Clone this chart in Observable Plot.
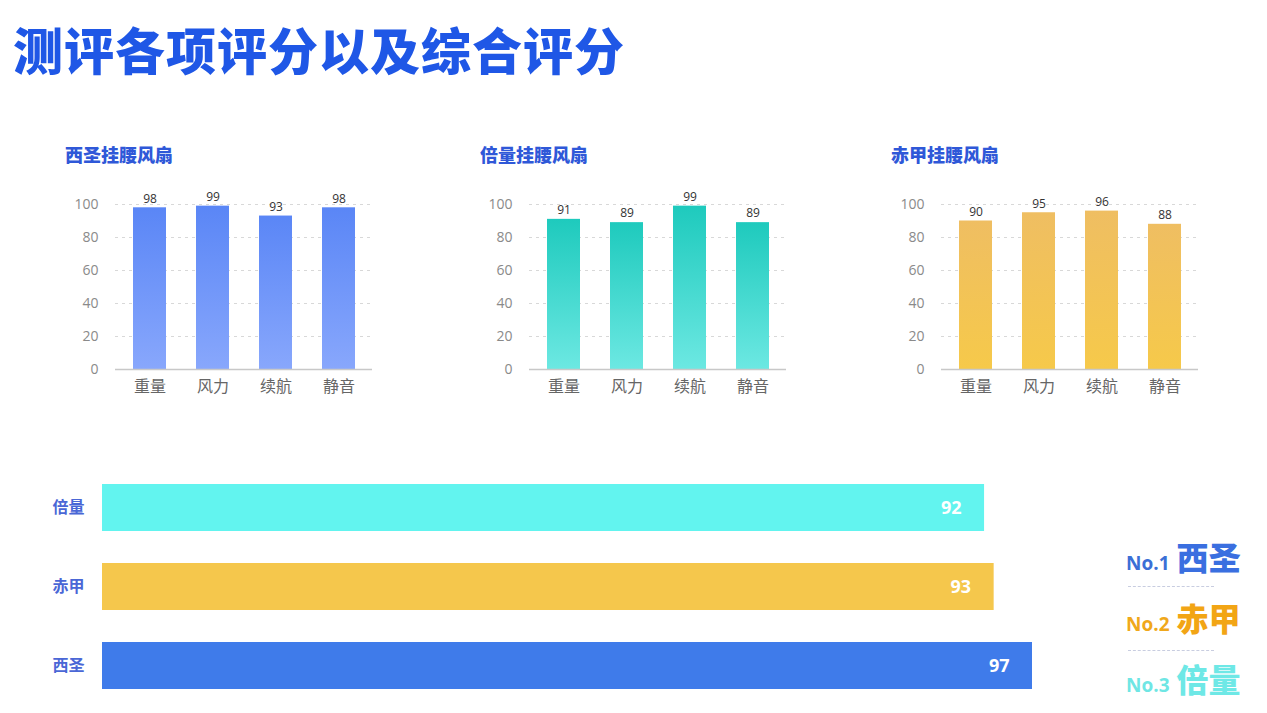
<!DOCTYPE html>
<html>
<head>
<meta charset="utf-8">
<script src="https://cdn.jsdelivr.net/npm/d3@7"></script>
<script src="https://cdn.jsdelivr.net/npm/@observablehq/plot@0.6"></script>
<style>
  html, body { margin: 0; padding: 0; background: #fff; }
  body { width: 1267px; height: 713px; position: relative; overflow: hidden;
         font-family: "Open Sans", "Noto Sans CJK SC", sans-serif; }
  .abs { position: absolute; }
  #title { left: 13px; top: 13px; font-size: 50px; letter-spacing: 1px; font-weight: 900; color: #1f57e6;
           font-family: "Noto Sans CJK SC", sans-serif; line-height: 70px; white-space: nowrap; }
  .sub { font-size: 18px; font-weight: 900; color: #2f58d8; font-family: "Noto Sans CJK SC", sans-serif;
         line-height: 22px; white-space: nowrap; }
  .rank { white-space: nowrap; font-family: "Noto Sans CJK SC", sans-serif; font-weight: 700; line-height: 40px; }
  .rank .no { font-family: "Open Sans", sans-serif; font-size: 19px; font-weight: 700; margin-right: 7px; }
  .rank .nm { font-size: 32px; font-weight: 900; }
  .dash { border-top: 1.5px dashed #c8cde0; width: 86px; height: 0; }
</style>
</head>
<body>
<div id="title" class="abs">测评各项评分以及综合评分</div>
<div id="c1" class="abs" style="left:40px;top:180px"></div>
<div id="c2" class="abs" style="left:454px;top:180px"></div>
<div id="c3" class="abs" style="left:866px;top:180px"></div>
<div id="c4" class="abs" style="left:0px;top:440px"></div>
<div id="t1" class="abs sub" style="left:65px;top:143px">西圣挂腰风扇</div>
<div id="t2" class="abs sub" style="left:480px;top:143px">倍量挂腰风扇</div>
<div id="t3" class="abs sub" style="left:891px;top:143px">赤甲挂腰风扇</div>
<div id="rank" class="abs" style="left:1126px;top:540px"></div>
<script>
const categories = ["重量", "风力", "续航", "静音"];
const xishengScores = [98, 99, 93, 98];
const beiliangScores = [91, 89, 99, 89];
const chijiaScores = [90, 95, 96, 88];
const yTicks = [0, 20, 40, 60, 80, 100];
const brands = ["倍量", "赤甲", "西圣"];
const overallScores = [92, 93, 97];
const brandColors = ["#62f4ef", "#f5c74c", "#3f7bea"];
const rankNames = ["西圣", "赤甲", "倍量"];
const rankLabels = ["No.1", "No.2", "No.3"];
const rankColors = [["#3b6fd6", "#3a6fe0"], ["#f0a81b", "#f2a515"], ["#6fe6e4", "#6ee8e6"]];

function gradient(id, top, bottom) {
  return () => {
    const ns = "http://www.w3.org/2000/svg";
    const defs = document.createElementNS(ns, "defs");
    const g = document.createElementNS(ns, "linearGradient");
    g.setAttribute("id", id);
    g.setAttribute("x1", "0"); g.setAttribute("y1", "0");
    g.setAttribute("x2", "0"); g.setAttribute("y2", "1");
    [[0, top], [1, bottom]].forEach(([o, c]) => {
      const s = document.createElementNS(ns, "stop");
      s.setAttribute("offset", o);
      s.setAttribute("stop-color", c);
      g.appendChild(s);
    });
    defs.appendChild(g);
    return defs;
  };
}

function smallChart(values, id, top, bottom) {
  const data = categories.map((c, i) => ({cat: c, v: values[i]}));
  return Plot.plot({
    width: 337, height: 219,
    marginLeft: 75, marginRight: 5, marginTop: 24, marginBottom: 30,
    style: {fontFamily: "'Open Sans', 'Noto Sans CJK SC', sans-serif", background: "transparent"},
    x: {domain: categories, paddingInner: 0.48, paddingOuter: 0.25, label: null},
    y: {domain: [0, 100], label: null},
    marks: [
      gradient(id, top, bottom),
      Plot.gridY([20, 40, 60, 80, 100], {stroke: "#d8d8d8", strokeOpacity: 1, strokeDasharray: "3,4"}),
      Plot.barY(data, {x: "cat", y: "v", fill: `url(#${id})`}),
      Plot.ruleY([0], {stroke: "#c8c8c8", strokeWidth: 1.5}),
      Plot.axisY({ticks: yTicks, tickSize: 0, tickPadding: 17, fontSize: 14, fill: "#8a8a8a", label: null}),
      Plot.axisX({tickSize: 0, tickPadding: 11, fontSize: 16, fill: "#666", label: null}),
      Plot.text(data, {x: "cat", y: "v", text: d => String(d.v), dy: -9, fontSize: 12, fill: "#333"})
    ]
  });
}

document.getElementById("c1").appendChild(smallChart(xishengScores, "g1", "#5a86f6", "#88a7fc"));
document.getElementById("c2").appendChild(smallChart(beiliangScores, "g2", "#1ecabd", "#6ce8e2"));
document.getElementById("c3").appendChild(smallChart(chijiaScores, "g3", "#efbe62", "#f6c94a"));

const overall = brands.map((b, i) => ({brand: b, score: overallScores[i]}));
document.getElementById("c4").appendChild(Plot.plot({
  width: 1100, height: 273,
  marginLeft: 102, marginRight: 68, marginTop: 44, marginBottom: 23,
  style: {fontFamily: "'Noto Sans CJK SC', 'Open Sans', sans-serif", background: "transparent"},
  x: {domain: [0, 97], axis: null},
  y: {domain: brands, paddingInner: 0.4, paddingOuter: 0, label: null},
  color: {domain: brands, range: brandColors},
  marks: [
    Plot.barX(overall, {y: "brand", x: "score", fill: "brand"}),
    Plot.axisY({tickSize: 0, tickPadding: 18, fontSize: 16, fontWeight: "bold", fill: "#4a67d6", label: null}),
    Plot.text(overall, {x: "score", y: "brand", text: d => String(d.score), textAnchor: "end", dx: -23,
      fill: "white", fontSize: 18, fontWeight: "bold", fontFamily: "'Open Sans', sans-serif"})
  ]
}));

const rank = document.getElementById("rank");
const rowTops = [-4, 57, 118];
const dashTops = [46, 110];
rankNames.forEach((n, i) => {
  const row = document.createElement("div");
  row.className = "rank";
  row.style.position = "absolute";
  row.style.left = "0px";
  row.style.top = rowTops[i] + "px";
  row.innerHTML = `<span class="no" style="color:${rankColors[i][0]}">${rankLabels[i]}</span><span class="nm" style="color:${rankColors[i][1]}">${n}</span>`;
  rank.appendChild(row);
  if (i < dashTops.length) {
    const d = document.createElement("div");
    d.className = "dash";
    d.style.position = "absolute";
    d.style.left = "2px";
    d.style.top = dashTops[i] + "px";
    rank.appendChild(d);
  }
});
</script>
</body>
</html>
